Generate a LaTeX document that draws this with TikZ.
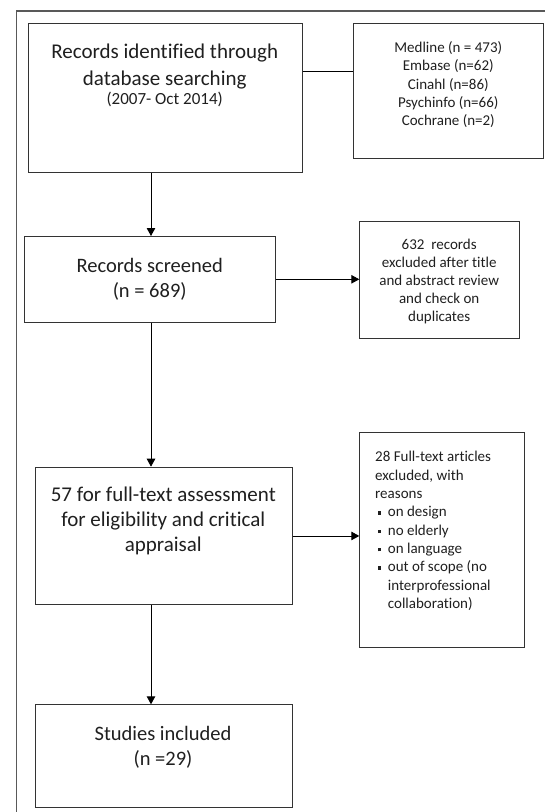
\documentclass[tikz,border=0pt]{standalone}
\usepackage{fontspec}
\setmainfont{Carlito}[Ligatures={NoCommon,NoRequired,NoContextual}]
\usetikzlibrary{arrows.meta}
\newcommand{\ctext}[1]{\begin{tabular}[t]{@{}c@{}}#1\end{tabular}}
\newcommand{\ltext}[1]{\begin{tabular}[t]{@{}l@{}}#1\end{tabular}}
\newcommand{\bul}{\makebox[12.7pt][l]{\hspace{2.3pt}\rule[2pt]{3.2pt}{3.2pt}}}
\begin{document}
\begin{tikzpicture}[x=1pt,y=-1pt,
  box/.style={draw=black!80, line width=0.9pt, inner sep=0pt, anchor=north west},
  txt/.style={inner sep=0pt, anchor=base, text=black!88},
  conn/.style={draw=black, line width=0.9pt},
  arr/.style={conn, -{Triangle[length=8pt,width=8.5pt]}},
  frame/.style={draw=black!65, line width=1.3pt}]
\useasboundingbox (0,0) rectangle (545,812);
\draw[frame] (16.3,813) -- (16.3,11) -- (546,11);
% boxes
\node[box, minimum width=274pt, minimum height=149.6pt] (b1) at (27.7,22.7) {};
\node[box, minimum width=190pt, minimum height=135pt] (b2) at (353.3,22.7) {};
\node[box, minimum width=250.7pt, minimum height=85.7pt] (b3) at (24.3,236) {};
\node[box, minimum width=159.7pt, minimum height=117.3pt] (b4) at (359.3,220.7) {};
\node[box, minimum width=256.7pt, minimum height=137.6pt] (b5) at (35,466.7) {};
\node[box, minimum width=165pt, minimum height=215pt] (b6) at (359.3,431.7) {};
\node[box, minimum width=256.7pt, minimum height=103pt] (b7) at (35,704.3) {};
\coordinate (j12) at (330,71);
\coordinate (spine) at (151,400);
% texts
\node[txt, font=\fontsize{21}{26.7}\selectfont] (t1) at (164.7,58.3)
  {\ctext{Records identified through\\database searching\\[-7.7pt]{\fontsize{17}{19}\selectfont (2007- Oct 2014)}}};
\node[txt, font=\fontsize{15}{18.35}\selectfont] (t2) at (448.3,52.3)
  {\ctext{Medline (n = 473)\\Embase (n=62)\\Cinahl (n=86)\\Psychinfo (n=66)\\Cochrane (n=2)}};
\node[txt, font=\fontsize{20.5}{25}\selectfont] (t3) at (149.7,272.3)
  {\ctext{Records screened\\(n = 689)}};
\node[txt, font=\fontsize{15}{18.1}\selectfont] (t4) at (439.2,249.3)
  {\ctext{632\ \ records\\excluded after title\\and abstract review\\and check on\\duplicates}};
\node[txt, font=\fontsize{21}{25}\selectfont] (t5) at (163.3,501)
  {\ctext{57 for full-text assessment\\for eligibility and critical\\appraisal}};
\node[txt, anchor=base west, font=\fontsize{15}{18.33}\selectfont] (t6) at (375,461.7)
  {\ltext{28 Full-text articles\\excluded, with\\reasons\\\bul on design\\\bul no elderly\\\bul on language\\\bul out of scope (no\\\hspace*{12.7pt}interprofessional\\\hspace*{12.7pt}collaboration)}};
\node[txt, font=\fontsize{20.5}{25}\selectfont] (t7) at (163,740)
  {\ctext{Studies included\\(n =29)}};
% connectors
\draw[conn] (b1.east |- j12) -- (b2.west |- j12);
\draw[arr] (b1.south -| spine) -- (b3.north -| spine);
\draw[arr] (b3.east) -- (b3.east -| b4.west);
\draw[arr] (b3.south -| spine) -- (b5.north -| spine);
\draw[arr] (b5.east) -- (b5.east -| b6.west);
\draw[arr] (b5.south -| spine) -- (b7.north -| spine);
\end{tikzpicture}
\end{document}
